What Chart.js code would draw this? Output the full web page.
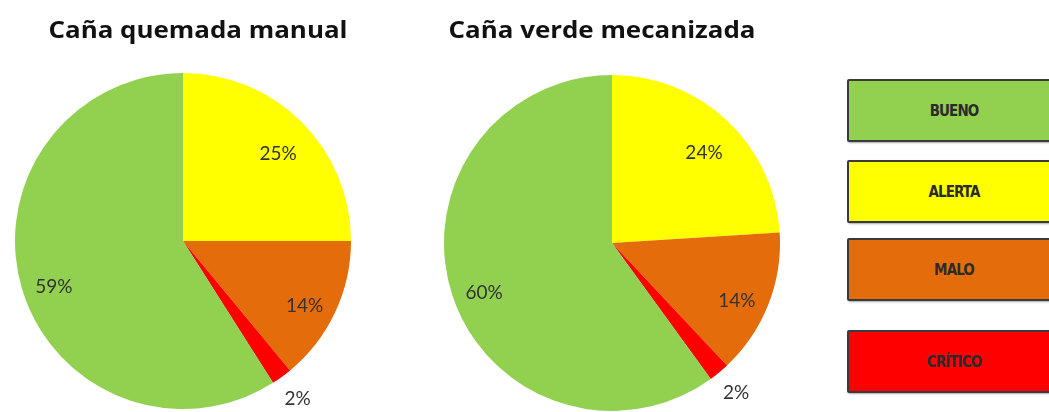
<!DOCTYPE html>
<html>
<head>
<meta charset="utf-8">
<script src="https://cdn.jsdelivr.net/npm/chart.js@4.4.0/dist/chart.umd.min.js"></script>
<style>
  body { margin: 0; background: #fff; width: 1049px; height: 412px; overflow: hidden; position: relative; }
  .pie { position: absolute; top: 0; }
  .key {
    position: absolute; left: 847px; width: 214px; height: 63px;
    border: 2px solid #3a3a3a; border-radius: 2px; box-sizing: border-box;
    box-shadow: 1px 1px 2px rgba(0,0,0,.35);
    font: bold 15px "DejaVu Sans Condensed", "Liberation Sans", sans-serif;
    color: #2b2b2b; letter-spacing: -0.9px;
    display: flex; align-items: center; justify-content: center;
  }
</style>
</head>
<body>
<canvas id="pieQuemada" class="pie" width="400" height="412" style="left:0"></canvas>
<canvas id="pieVerde" class="pie" width="400" height="412" style="left:420px"></canvas>
<div id="legend"></div>
<script>
const $ = id => document.getElementById(id);

// slice order clockwise from 12 o'clock
const categories = ["ALERTA", "MALO", "CRÍTICO", "BUENO"];
const quemadaValues = [25, 14, 2, 59];
const verdeValues = [24, 14, 2, 60];
const sliceColors = ["#FFFF00", "#E46C0A", "#FF0000", "#92D050"];

const legendLabels = ["BUENO", "ALERTA", "MALO", "CRÍTICO"];
const legendColors = ["#92D050", "#FFFF00", "#E46C0A", "#FF0000"];
const legendTops = [79, 160, 238, 330];

// percent labels: inside the slice, small slices just outside
const pctLabels = {
  id: "pctLabels",
  afterDatasetsDraw(chart) {
    const ctx = chart.ctx;
    const vals = chart.data.datasets[0].data;
    ctx.save();
    ctx.font = "19px Lato, 'Open Sans', sans-serif";
    ctx.fillStyle = "#333";
    ctx.textAlign = "center";
    ctx.textBaseline = "middle";
    chart.getDatasetMeta(0).data.forEach((arc, i) => {
      const p = arc.getProps(["x", "y", "startAngle", "endAngle", "outerRadius"], true);
      const mid = (p.startAngle + p.endAngle) / 2;
      const outside = vals[i] < 5;
      const r = outside ? p.outerRadius * 1.16 : p.outerRadius * 0.8;
      const dy = outside ? 0 : 8;
      ctx.fillText(vals[i] + "%", p.x + Math.cos(mid) * r, p.y + Math.sin(mid) * r + dy);
    });
    ctx.restore();
  }
};

// chart heading, drawn a little off the pie's centre like the original
const heading = {
  id: "heading",
  afterDraw(chart, args, opts) {
    const ctx = chart.ctx;
    const a = chart.chartArea;
    ctx.save();
    ctx.font = "bold 24px 'Open Sans', Lato, sans-serif";
    ctx.fillStyle = "#111";
    ctx.textAlign = "center";
    ctx.textBaseline = "middle";
    const cx = (a.left + a.right) / 2 + opts.shift;
    ctx.translate(cx, 31);
    ctx.scale(1.08, 1);
    ctx.fillText(opts.text, 0, 0);
    ctx.restore();
  }
};

function makePie(id, title, values, pad, shift) {
  return new Chart($(id), {
    type: "pie",
    data: {
      labels: categories,
      datasets: [{ data: values, backgroundColor: sliceColors, borderWidth: 0 }]
    },
    options: {
      responsive: false,
      animation: false,
      layout: { padding: pad },
      plugins: {
        legend: { display: false },
        tooltip: { enabled: false },
        heading: { text: title, shift: shift }
      }
    },
    plugins: [pctLabels, heading]
  });
}

makePie("pieQuemada", "Caña quemada manual", quemadaValues, { left: 15, right: 49, top: 73, bottom: 3 }, 15);
makePie("pieVerde", "Caña verde mecanizada", verdeValues, { left: 24, right: 40, top: 75, bottom: 1 }, -10);

$("legend").innerHTML = legendLabels.map((l, i) =>
  `<div class="key" style="top:${legendTops[i]}px;background:${legendColors[i]}">${l}</div>`
).join("");
</script>
</body>
</html>
